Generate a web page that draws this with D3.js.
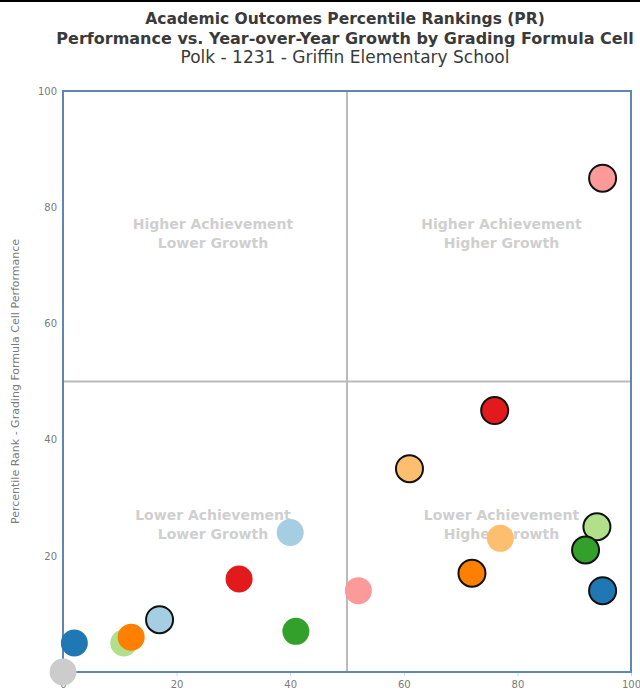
<!DOCTYPE html>
<html>
<head>
<meta charset="utf-8">
<script src="https://cdn.jsdelivr.net/npm/d3@7"></script>
<style>
  body { margin: 0; background: #fff; }
  svg { font-family: "DejaVu Sans", Verdana, sans-serif; }
</style>
</head>
<body>
<div id="main_div"></div>
<script>
// one colour per grading formula cell, prior (no outline) and current (outlined) points
var cellColors = ["#cccccc", "#1f78b4", "#b2df8a", "#ff7f00", "#a6cee3", "#e31a1c", "#33a02c", "#fb9a99", "#fdbf6f"];
var priorGrowth = [0, 2, 10.7, 12, 40, 31, 41, 52, 77];
var priorPerf = [0, 5, 5, 6, 24, 16, 7, 14, 23];
var currGrowth = [null, 95, 94, 72, 17, 76, 92, 95, 61];
var currPerf = [null, 14, 25, 17, 9, 45, 21, 85, 35];

var titleLines = ["Academic Outcomes Percentile Rankings (PR)",
  "Performance vs. Year-over-Year Growth by Grading Formula Cell",
  "Polk - 1231 - Griffin Elementary School"];
var quadrantLabels = [
  {x: 26.4, y: 75, lines: ["Higher Achievement", "Lower Growth"]},
  {x: 77.2, y: 75, lines: ["Higher Achievement", "Higher Growth"]},
  {x: 26.4, y: 25, lines: ["Lower Achievement", "Lower Growth"]},
  {x: 77.2, y: 25, lines: ["Lower Achievement", "Higher Growth"]}
];
var ticks = [0, 20, 40, 60, 80, 100];

var points = [];
cellColors.forEach(function(c, i) {
  points.push({x: priorGrowth[i], y: priorPerf[i], color: c, current: false});
});
cellColors.forEach(function(c, i) {
  if (currGrowth[i] != null) points.push({x: currGrowth[i], y: currPerf[i], color: c, current: true});
});

var x_scale = d3.scaleLinear().domain([0, 100]).range([63, 631]);
var y_scale = d3.scaleLinear().domain([0, 100]).range([672, 91]);

var svg = d3.select("#main_div").append("svg").attr("width", 640).attr("height", 693);

svg.append("line").attr("x1", 0).attr("x2", 640).attr("y1", 1).attr("y2", 1)
  .attr("stroke", "#000").attr("stroke-width", 2);

svg.append("g").selectAll("text").data(titleLines).enter().append("text")
  .attr("x", 345)
  .attr("y", function(d, i) { return 24 + i * 19.5; })
  .attr("text-anchor", "middle")
  .attr("font-size", function(d, i) { return i == 0 ? 15.5 : (i == 1 ? 16 : 17); })
  .attr("font-weight", function(d, i) { return i == 2 ? "normal" : "bold"; })
  .attr("fill", "#3a3a3a")
  .text(function(d) { return d; });

// quadrant dividers
svg.append("line").attr("x1", x_scale(50)).attr("x2", x_scale(50))
  .attr("y1", y_scale(100)).attr("y2", y_scale(0)).attr("stroke", "#bbb").attr("stroke-width", 2);
svg.append("line").attr("x1", x_scale(0)).attr("x2", x_scale(100))
  .attr("y1", y_scale(50)).attr("y2", y_scale(50)).attr("stroke", "#bbb").attr("stroke-width", 2);

var ql = svg.append("g").selectAll("text").data(quadrantLabels).enter().append("text")
  .attr("text-anchor", "middle")
  .attr("font-size", 14)
  .attr("font-weight", "bold")
  .attr("fill", "#cfcfcf");
ql.each(function(d) {
  var t = d3.select(this);
  d.lines.forEach(function(l, i) {
    t.append("tspan").attr("x", x_scale(d.x)).attr("y", y_scale(d.y) - 7 + i * 19).text(l);
  });
});

// axes
var g_y = svg.append("g").attr("transform", "translate(" + x_scale(0) + ",0)")
  .call(d3.axisLeft(y_scale).tickValues(ticks).tickSize(0).tickPadding(6));
var g_x = svg.append("g").attr("transform", "translate(0," + y_scale(0) + ")")
  .call(d3.axisBottom(x_scale).tickValues(ticks).tickSize(4).tickPadding(5));
[g_x, g_y].forEach(function(g) {
  g.select(".domain").remove();
  g.selectAll("text").attr("fill", "#7a7a7a").attr("font-size", 10).attr("font-family", "DejaVu Sans, sans-serif");
  g.selectAll("line").attr("stroke", "#c8d4e3");
});
g_y.selectAll("text").attr("dy", "0.32em");

svg.append("rect").attr("x", x_scale(0)).attr("y", y_scale(100))
  .attr("width", x_scale(100) - x_scale(0)).attr("height", y_scale(0) - y_scale(100))
  .attr("fill", "none").attr("stroke", "#5f87b4").attr("stroke-width", 2);

svg.append("text")
  .attr("transform", "translate(19," + y_scale(50) + ") rotate(-90)")
  .attr("text-anchor", "middle")
  .attr("font-size", 11)
  .attr("fill", "#7a7a7a")
  .text("Percentile Rank - Grading Formula Cell Performance");

svg.append("g").selectAll("circle").data(points).enter().append("circle")
  .attr("cx", function(d) { return x_scale(d.x); })
  .attr("cy", function(d) { return y_scale(d.y); })
  .attr("r", 13.5)
  .attr("fill", function(d) { return d.color; })
  .attr("stroke", function(d) { return d.current ? "#111" : "none"; })
  .attr("stroke-width", 2);
</script>
</body>
</html>
